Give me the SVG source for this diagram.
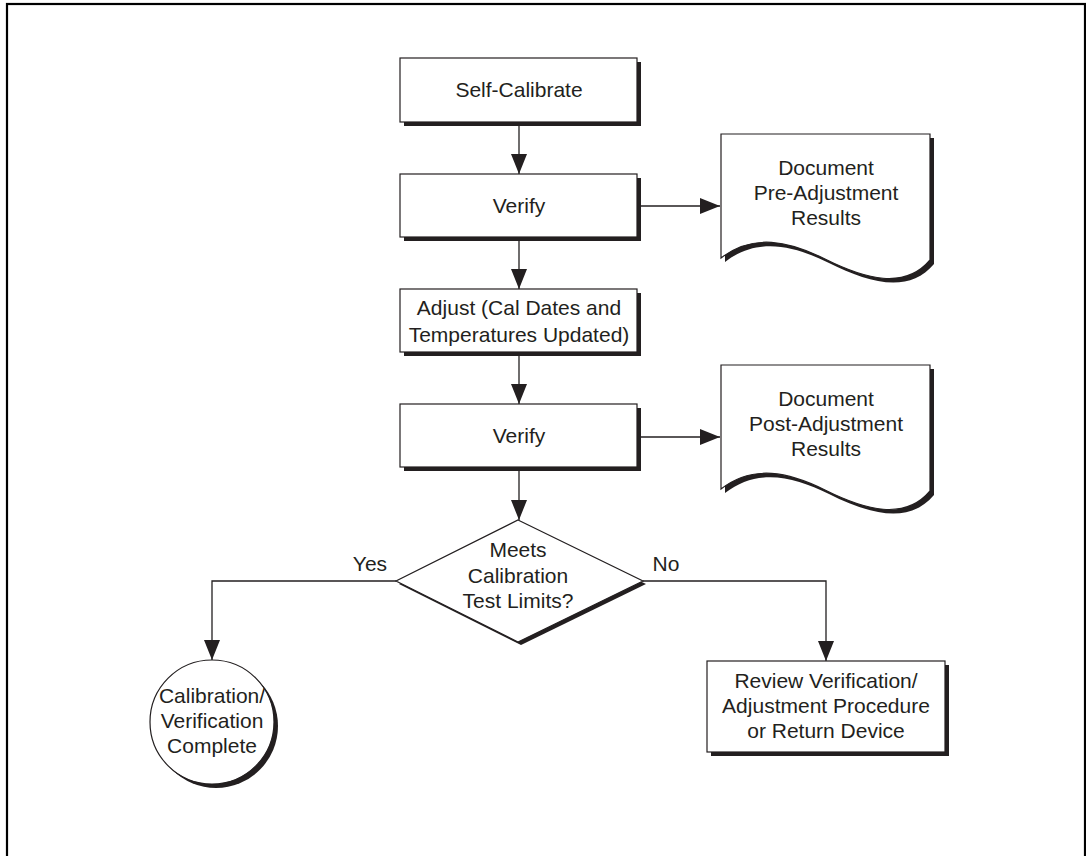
<svg xmlns="http://www.w3.org/2000/svg" width="1086" height="856" viewBox="0 0 1086 856">
<style>
.box{fill:#fff;stroke:#231f20;stroke-width:1.2}
.sh{fill:#231f20}
.t{font-family:"Liberation Sans",Arial,Helvetica,sans-serif;font-size:21px;fill:#231f20;text-anchor:middle}
.c{fill:none;stroke:#231f20;stroke-width:1.3}
</style>
<defs>
<marker id="ah" markerUnits="userSpaceOnUse" markerWidth="20" markerHeight="16" viewBox="0 0 20 16" refX="20" refY="8" orient="auto">
<path d="M0,0 L20,8 L0,16 Z" fill="#231f20"/>
</marker>
<path id="doc" d="M0,0 H209 V126 C184,156 144,145 104,125 C68,107 32,99 0,124 Z"/>
</defs>
<rect x="7" y="4" width="1078" height="900" fill="none" stroke="#000" stroke-width="2.2"/>
<g id="connectors">
<line class="c" x1="519" y1="122" x2="519" y2="174" marker-end="url(#ah)"/>
<line class="c" x1="519" y1="237" x2="519" y2="289" marker-end="url(#ah)"/>
<line class="c" x1="519" y1="352" x2="519" y2="404" marker-end="url(#ah)"/>
<line class="c" x1="519" y1="467" x2="519" y2="520" marker-end="url(#ah)"/>
<line class="c" x1="637" y1="206" x2="720" y2="206" marker-end="url(#ah)"/>
<line class="c" x1="637" y1="437" x2="720" y2="437" marker-end="url(#ah)"/>
<polyline class="c" points="396,581 212,581 212,660" marker-end="url(#ah)"/>
<polyline class="c" points="643,581 826,581 826,661" marker-end="url(#ah)"/>
<text class="t" x="370" y="571">Yes</text>
<text class="t" x="666" y="571">No</text>
</g>
<g id="self-calibrate">
<rect class="sh" x="404" y="62" width="237" height="64"/>
<rect class="box" x="400" y="58" width="237" height="64"/>
<text class="t" x="519" y="97">Self-Calibrate</text>
</g>
<g id="verify1">
<rect class="sh" x="404" y="178" width="237" height="63"/>
<rect class="box" x="400" y="174" width="237" height="63"/>
<text class="t" x="519" y="213">Verify</text>
</g>
<g id="doc1">
<use href="#doc" x="725" y="138" class="sh"/>
<use href="#doc" x="721" y="134" class="box"/>
<text class="t" x="826" y="175">Document</text>
<text class="t" x="826" y="200">Pre-Adjustment</text>
<text class="t" x="826" y="225">Results</text>
</g>
<g id="adjust">
<rect class="sh" x="404" y="293" width="237" height="63"/>
<rect class="box" x="400" y="289" width="237" height="63"/>
<text class="t" x="519" y="315">Adjust (Cal Dates and</text>
<text class="t" x="519" y="342">Temperatures Updated)</text>
</g>
<g id="verify2">
<rect class="sh" x="404" y="408" width="237" height="63"/>
<rect class="box" x="400" y="404" width="237" height="63"/>
<text class="t" x="519" y="443">Verify</text>
</g>
<g id="doc2">
<use href="#doc" x="725" y="369" class="sh"/>
<use href="#doc" x="721" y="365" class="box"/>
<text class="t" x="826" y="406">Document</text>
<text class="t" x="826" y="431">Post-Adjustment</text>
<text class="t" x="826" y="456">Results</text>
</g>
<g id="decision">
<polygon class="sh" points="521,523 646,584 521,645 399,584"/>
<polygon class="box" points="518,520 643,581 518,642 396,581"/>
<text class="t" x="518" y="557">Meets</text>
<text class="t" x="518" y="583">Calibration</text>
<text class="t" x="518" y="608">Test Limits?</text>
</g>
<g id="complete">
<circle class="sh" cx="216" cy="726" r="62"/>
<circle class="box" cx="212" cy="722" r="62"/>
<text class="t" x="212" y="703">Calibration/</text>
<text class="t" x="212" y="728">Verification</text>
<text class="t" x="212" y="753">Complete</text>
</g>
<g id="review">
<rect class="sh" x="711" y="665" width="238" height="91"/>
<rect class="box" x="707" y="661" width="238" height="91"/>
<text class="t" x="826" y="688">Review Verification/</text>
<text class="t" x="826" y="713">Adjustment Procedure</text>
<text class="t" x="826" y="738">or Return Device</text>
</g>
</svg>
